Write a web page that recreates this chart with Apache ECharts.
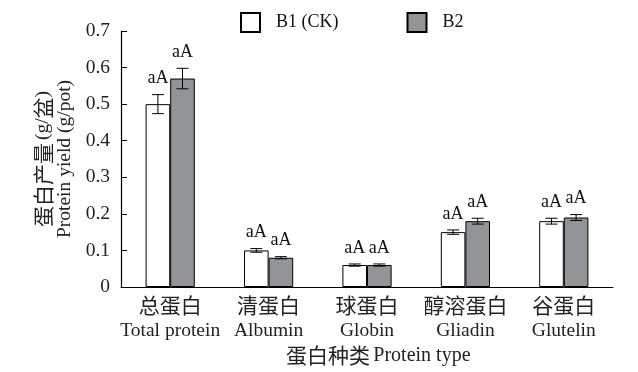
<!DOCTYPE html>
<html><head><meta charset="utf-8">
<script src="https://cdn.jsdelivr.net/npm/echarts@6/dist/echarts.min.js"></script>
<style>html,body{margin:0;padding:0;background:#fff}#c{width:638px;height:372px}</style>
</head><body><div id="c"></div>
<script>
const categoriesZh = ['总蛋白', '清蛋白', '球蛋白', '醇溶蛋白', '谷蛋白'];
const categoriesEn = ['Total protein', 'Albumin', 'Globin', 'Gliadin', 'Glutelin'];
const seriesNames = ['B1 (CK)', 'B2'];
const b1Values = [0.50, 0.10, 0.06, 0.15, 0.18];
const b2Values = [0.57, 0.08, 0.06, 0.18, 0.19];
const b1Errors = [0.026, 0.005, 0.003, 0.006, 0.008];
const b2Errors = [0.028, 0.003, 0.003, 0.008, 0.008];
const b1Letters = ['aA', 'aA', 'aA', 'aA', 'aA'];
const b2Letters = ['aA', 'aA', 'aA', 'aA', 'aA'];
const yTicks = [0, 0.1, 0.2, 0.3, 0.4, 0.5, 0.6, 0.7];

const FONT = '"Liberation Serif", "Noto Sans CJK SC", serif';
const CJK = '"Noto Sans CJK SC", "Liberation Serif", serif';
const chart = echarts.init(document.getElementById('c'));

function errSeries(values, errors, letters, side) {
  return {
    type: 'custom',
    z: 10,
    silent: true,
    data: values.map((v, i) => [i, v, errors[i]]),
    renderItem: function (params, api) {
      const idx = api.value(0), v = api.value(1), e = api.value(2);
      const band = api.size([1, 0])[0];
      const c = api.coord([idx, v]);
      const x = c[0] + side * band * 0.125;
      const top = api.coord([idx, v + e])[1];
      const bot = api.coord([idx, v - e])[1];
      const cap = 6;
      const st = { stroke: '#000', lineWidth: 1 };
      return {
        type: 'group',
        children: [
          { type: 'line', shape: { x1: x, y1: top, x2: x, y2: bot }, style: st },
          { type: 'line', shape: { x1: x - cap, y1: top, x2: x + cap, y2: top }, style: st },
          { type: 'line', shape: { x1: x - cap, y1: bot, x2: x + cap, y2: bot }, style: st },
          { type: 'text', x: x, y: top - 7, style: { text: letters[idx], fill: '#111', font: '18px ' + FONT, align: 'center', verticalAlign: 'bottom' } }
        ]
      };
    }
  };
}

chart.setOption({
  animation: false,
  textStyle: { fontFamily: FONT },
  legend: {
    top: 7, left: 235,
    itemWidth: 19, itemHeight: 19, itemGap: 68,
    textStyle: { fontFamily: FONT, fontSize: 18, color: '#111', padding: [0, 0, 0, 11] },
    data: seriesNames.map(n => ({ name: n, icon: 'rect' }))
  },
  grid: { left: 121, right: 25, top: 31, bottom: 85 },
  xAxis: {
    type: 'category',
    data: categoriesZh.map((z, i) => z + '\n' + categoriesEn[i]),
    axisLine: { lineStyle: { color: '#000', width: 1.2 } },
    axisTick: { inside: true, length: 7, lineStyle: { color: '#000' } },
    axisLabel: {
      interval: 0, margin: 5,
      formatter: (v, i) => '{zh|' + categoriesZh[i] + '}\n{en|' + categoriesEn[i] + '}',
      rich: {
        zh: { fontFamily: CJK, fontSize: 21, lineHeight: 26, color: '#222' },
        en: { fontFamily: FONT, fontSize: 19.5, lineHeight: 26, color: '#222' }
      }
    }
  },
  yAxis: {
    type: 'value', min: 0, max: 0.7, interval: 0.1,
    axisLine: { show: true, lineStyle: { color: '#000', width: 1.2 } },
    axisTick: { show: true, inside: true, length: 6, lineStyle: { color: '#000' } },
    splitLine: { show: false },
    axisLabel: { color: '#222', fontFamily: FONT, fontSize: 19.5, margin: 11,
      formatter: v => { const t = yTicks.find(t => Math.abs(t - v) < 1e-9); return t === 0 ? '0' : String(t); } },
    name: '{zh|蛋白产量} {en|(g/}{zh|盆}{en|)}\n{en|Protein yield (g/pot)}',
    nameLocation: 'middle', nameRotate: 90, nameGap: 44,
    nameTextStyle: {
      rich: {
        zh: { fontFamily: CJK, fontSize: 21, lineHeight: 22, color: '#222' },
        en: { fontFamily: FONT, fontSize: 19.5, lineHeight: 22, color: '#222' }
      }
    }
  },
  graphic: [{
    type: 'text', left: 286, top: 345,
    style: {
      text: '{zh|蛋白种类} {en|Protein type}',
      rich: {
        zh: { fontFamily: CJK, fontSize: 21, fill: '#222' },
        en: { fontFamily: FONT, fontSize: 20, fill: '#222' }
      }
    }
  }],
  series: [
    { name: seriesNames[0], type: 'bar', data: b1Values, barGap: '0%', barCategoryGap: '50%',
      itemStyle: { color: '#fff', borderColor: '#000', borderWidth: 1 } },
    { name: seriesNames[1], type: 'bar', data: b2Values,
      itemStyle: { color: '#939498', borderColor: '#000', borderWidth: 1 } },
    errSeries(b1Values, b1Errors, b1Letters, -1),
    errSeries(b2Values, b2Errors, b2Letters, 1)
  ]
});
</script></body></html>
